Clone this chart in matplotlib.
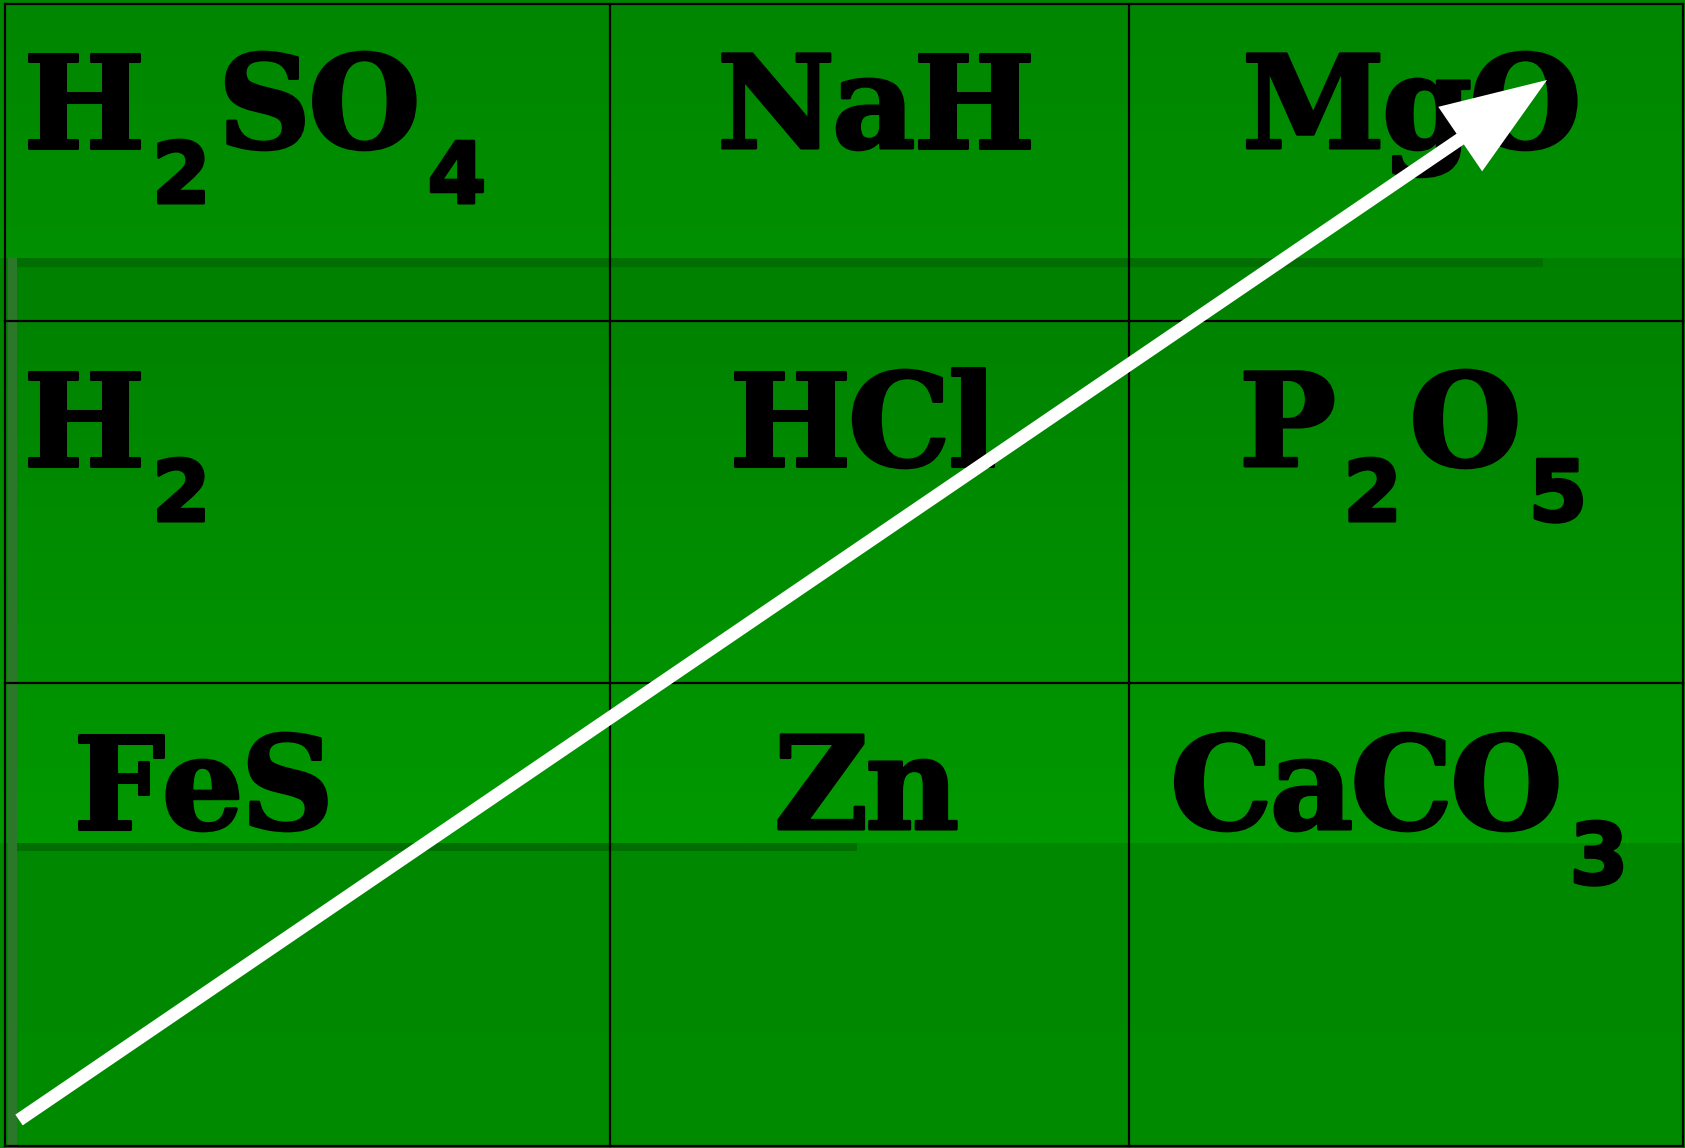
import numpy as np
import matplotlib
matplotlib.use('Agg')
import matplotlib.pyplot as plt
import matplotlib.patheffects as pe
from matplotlib.patches import Rectangle, FancyArrow

# formulas per cell, row by row; digits are drawn as subscripts
formulas = [['H2SO4', 'NaH', 'MgO'],
            ['H2', 'HCl', 'P2O5'],
            ['FeS', 'Zn', 'CaCO3']]
# left edge of each formula inside its column (px from the column line)
text_offset = [[18, 107, 113],
               [18, 119, 110],
               [68, 164, 41]]

W, H = 1685, 1148
col_edges = [5, 610, 1129, 1683]
row_edges = [4, 321, 683, 1146]
baseline_from_top = [144, 145, 146]   # baseline below each row's top line
sub_drop = 55

arrow_start = (19, 1120)
arrow_end = (1547, 80)

fig = plt.figure(figsize=(W / 100, H / 100), dpi=100)
ax = fig.add_axes([0, 0, 1, 1])
ax.set_xlim(0, W)
ax.set_ylim(H, 0)
ax.axis('off')


def band(y0, y1, c0, c1):
    g = np.linspace(0, 1, 64)[:, None, None]
    img = np.array(c0)[None, None, :] * (1 - g) + np.array(c1)[None, None, :] * g
    ax.imshow(img, extent=[0, W, y1, y0], aspect='auto', zorder=0, interpolation='bilinear')


band(0, 258, (0, 0.525, 0), (0, 0.565, 0))
band(258, 843, (0, 0.505, 0), (0, 0.60, 0))
band(843, H, (0, 0.535, 0), (0, 0.545, 0))
ax.add_patch(Rectangle((10, 258), 1533, 9, color=(0, 0.43, 0), lw=0, zorder=1))
ax.add_patch(Rectangle((10, 843), 847, 8, color=(0, 0.43, 0), lw=0, zorder=1))
ax.add_patch(Rectangle((8, 258), 9, H - 258, color=(0.17, 0.47, 0.17), lw=0, zorder=1))

for x in col_edges:
    ax.plot([x, x], [row_edges[0], row_edges[-1]], color='black', lw=1.6, zorder=2)
for y in row_edges:
    ax.plot([col_edges[0], col_edges[-1]], [y, y], color='black', lw=1.6, zorder=2)

renderer = fig.canvas.get_renderer()
bold = [pe.withStroke(linewidth=2.2, foreground='black')]
for r, row in enumerate(formulas):
    base = row_edges[r] + baseline_from_top[r]
    for c, f in enumerate(row):
        x = col_edges[c] + text_offset[r][c]
        prev_sub = None
        for ch in f:
            sub = ch.isdigit()
            if prev_sub is not None:
                x += 7 if sub != prev_sub else -3
            if sub:
                t = ax.text(x, base + sub_drop, ch, fontsize=61, family='DejaVu Sans',
                            weight='bold', color='black', ha='left', va='baseline', zorder=3)
            else:
                t = ax.text(x, base, ch, fontsize=93, family='DejaVu Serif',
                            weight='bold', color='black', ha='left', va='baseline', zorder=3)
            t.set_path_effects(bold)
            x += t.get_window_extent(renderer).width
            prev_sub = sub

dx = arrow_end[0] - arrow_start[0]
dy = arrow_end[1] - arrow_start[1]
ax.add_patch(FancyArrow(arrow_start[0], arrow_start[1], dx, dy, width=13,
                        head_width=78, head_length=105, length_includes_head=True,
                        color='white', lw=0, zorder=4))

fig.savefig('out.png', dpi=100)
